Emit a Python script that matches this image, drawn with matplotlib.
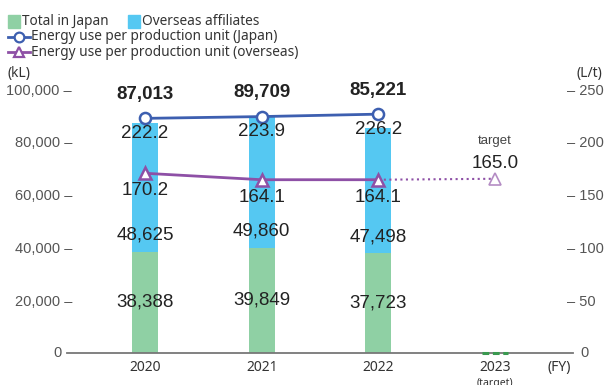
import matplotlib.pyplot as plt
from matplotlib.lines import Line2D
from matplotlib.patches import Rectangle

years = ['2020', '2021', '2022', '2023']
japan_kl = [38388, 39849, 37723]
overseas_kl = [48625, 49860, 47498]
total_kl = [87013, 89709, 85221]
unit_japan = [222.2, 223.9, 226.2]
unit_overseas = [170.2, 164.1, 164.1]
target_overseas = 165.0

left_ticks = [20000, 40000, 60000, 80000, 100000]
right_ticks = [50, 100, 150, 200, 250]

green = '#8fd0a4'
blue = '#55c8f2'
c_japan = '#3d5fb0'
c_over = '#8e50a6'
txt = '#222222'
grey = '#555555'
num_font = 'Liberation Sans'
jp_font = 'Noto Sans'

fig = plt.figure(figsize=(6.06, 3.85), dpi=100)
ax = fig.add_axes([67 / 606, 0.0831, 506 / 606, 0.6857])
ax2 = ax.twinx()

x = [0, 1, 2]
w = 0.22
ax.bar(x, japan_kl, width=w, color=green, zorder=2)
ax.bar(x, overseas_kl, width=w, bottom=japan_kl, color=blue, zorder=2)

# 2023 has no bar yet, only a dashed placeholder on the baseline
ax.plot([3 - w / 2, 3 + w / 2], [0, 0], color='#3a9a50', lw=2.2, ls=(0, (2.2, 1.2)), zorder=4, clip_on=False)

ax.set_xlim(-0.67, 3.67)
ax.set_ylim(0, 100000)
ax2.set_ylim(0, 250)

for a in (ax, ax2):
    for s in a.spines.values():
        s.set_visible(False)
ax.axhline(0, color='#777777', lw=1.3, zorder=3, clip_on=False)

ax.set_yticks(left_ticks)
ax.set_yticklabels([f'{v:,} –' for v in left_ticks], fontfamily=num_font, fontsize=10.5, color=grey)
ax.tick_params(axis='y', length=0, pad=-3.6)
ax2.set_yticks(right_ticks)
ax2.set_yticklabels([f'– {v}' for v in right_ticks], fontfamily=num_font, fontsize=10.5, color=grey)
ax2.tick_params(axis='y', length=0, pad=-4.3)
ax.annotate('0', (0, 0), xycoords='axes fraction', xytext=(-3.6, 0), textcoords='offset points',
            ha='right', va='center', fontfamily=num_font, fontsize=10.5, color=grey)
ax.annotate('0', (1, 0), xycoords='axes fraction', xytext=(5, 0), textcoords='offset points',
            ha='left', va='center', fontfamily=num_font, fontsize=10.5, color=grey)

ax.set_xticks(range(4))
ax.set_xticklabels(years, fontfamily=jp_font, fontsize=10, color='#333333')
ax.tick_params(axis='x', length=0, pad=5)
ax.text(3, -0.095, '(target)', transform=ax.get_xaxis_transform(), ha='center', va='top',
        fontfamily=jp_font, fontsize=7.5, color='#333333')
ax.text(3.45, -0.027, '(FY)', transform=ax.get_xaxis_transform(), ha='left', va='top',
        fontfamily=jp_font, fontsize=10, color='#333333')

# intensity lines on the right axis
ax2.plot(x, unit_japan, color=c_japan, lw=2, marker='o', ms=8, mfc='white', mec=c_japan, mew=1.8,
         zorder=5, clip_on=False)
ax2.plot(x, unit_overseas, color=c_over, lw=2, marker='^', ms=9, mfc='white', mec=c_over, mew=1.8,
         zorder=5, clip_on=False)
ax2.plot([2, 3], [unit_overseas[2], target_overseas], color=c_over, lw=1.5, ls=':', zorder=4)
ax2.plot([3], [target_overseas], marker='^', ms=9, mfc='white', mec='#b48cc4', mew=1.2, zorder=5)

# value labels
for i in x:
    ax.text(i, japan_kl[i] / 2, f'{japan_kl[i]:,}', ha='center', va='center',
            fontfamily=num_font, fontsize=13.5, color=txt, zorder=6)
    ax.annotate(f'{overseas_kl[i]:,}', (i, japan_kl[i]), xytext=(0, 12), textcoords='offset points',
                ha='center', va='center', fontfamily=num_font, fontsize=13.5, color=txt, zorder=6)
    ax2.annotate(f'{total_kl[i]:,}', (i, unit_japan[i]), xytext=(0, 17), textcoords='offset points',
                 ha='center', va='center', fontfamily=num_font, fontsize=13.5, fontweight='bold',
                 color=txt, zorder=6)
    ax2.annotate(f'{unit_japan[i]:.1f}', (i, unit_japan[i]), xytext=(0, -11), textcoords='offset points',
                 ha='center', va='center', fontfamily=num_font, fontsize=13.5, color=txt, zorder=6)
    ax2.annotate(f'{unit_overseas[i]:.1f}', (i, unit_overseas[i]), xytext=(0, -12.5), textcoords='offset points',
                 ha='center', va='center', fontfamily=num_font, fontsize=13.5, color=txt, zorder=6)

ax2.annotate(f'{target_overseas:.1f}', (3, target_overseas), xytext=(0, 11), textcoords='offset points',
             ha='center', va='center', fontfamily=num_font, fontsize=13.5, color=txt)
ax2.annotate('target', (3, target_overseas), xytext=(0, 27), textcoords='offset points',
             ha='center', va='center', fontfamily=num_font, fontsize=9.5, color='#444444')

# legend block at the top left
leg_size = 9.8
fig.patches.append(Rectangle((8 / 606, 1 - 28 / 385), 12 / 606, 13 / 385, transform=fig.transFigure,
                             color=green))
fig.text(22 / 606, 1 - 21.5 / 385, 'Total in Japan', fontfamily=jp_font, fontsize=leg_size,
         color='#333333', va='center')
fig.patches.append(Rectangle((128 / 606, 1 - 28 / 385), 12 / 606, 13 / 385, transform=fig.transFigure,
                             color=blue))
fig.text(142 / 606, 1 - 21.5 / 385, 'Overseas affiliates', fontfamily=jp_font, fontsize=leg_size,
         color='#333333', va='center')
for row, (col, mk, label) in enumerate([(c_japan, 'o', 'Energy use per production unit (Japan)'),
                                         (c_over, '^', 'Energy use per production unit (overseas)')]):
    yy = 1 - (37 + 15 * row) / 385
    fig.lines.append(Line2D([8 / 606, 30 / 606], [yy, yy], transform=fig.transFigure, color=col, lw=2))
    fig.lines.append(Line2D([19 / 606], [yy], transform=fig.transFigure, marker=mk, ms=7,
                            mfc='white', mec=col, mew=1.6))
    fig.text(31 / 606, yy, label, fontfamily=jp_font, fontsize=leg_size, color='#333333', va='center')

fig.text(8 / 606, 1 - 74 / 385, '(kL)', fontfamily=jp_font, fontsize=10, color='#333333', va='center')
fig.text(602 / 606, 1 - 74 / 385, '(L/t)', fontfamily=jp_font, fontsize=10, color='#333333',
         va='center', ha='right')

fig.savefig('out.png', dpi=100)
